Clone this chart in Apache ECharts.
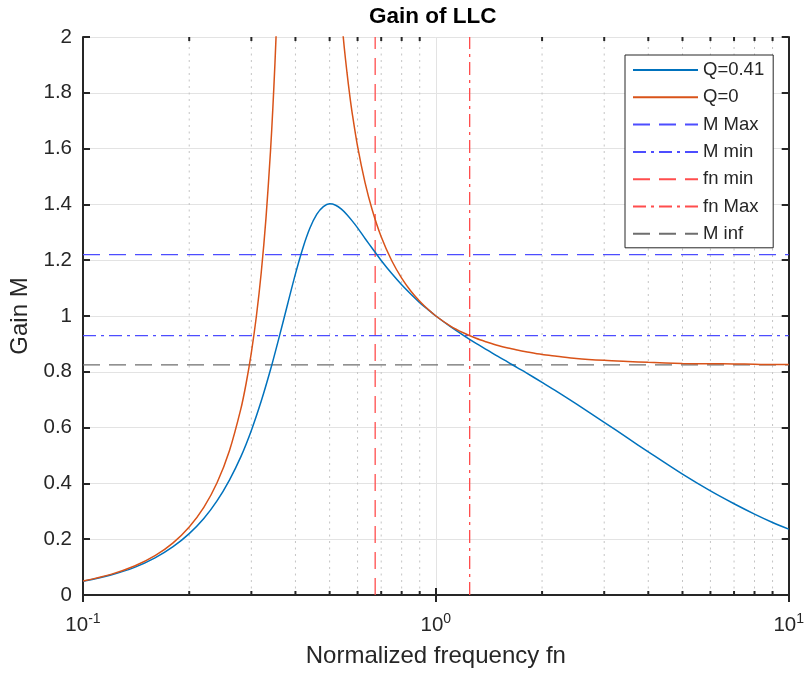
<!DOCTYPE html>
<html>
<head>
<meta charset="utf-8">
<title>Gain of LLC</title>
<script src="https://cdn.jsdelivr.net/npm/echarts@6/dist/echarts.min.js"></script>
<style>
  html, body { margin: 0; padding: 0; background: #fff; }
  #chart { width: 807px; height: 673px; }
</style>
</head>
<body>
<div id="chart"></div>
<script>
// Normalized frequency samples and gain for Q = 0.41 (Ln = 4.7)
const fnQ041 = [0.1, 0.12, 0.14, 0.16, 0.18, 0.2, 0.22, 0.24, 0.26, 0.28, 0.3, 0.32, 0.34, 0.36, 0.38,
  0.4, 0.42, 0.44, 0.46, 0.48, 0.5, 0.52, 0.54, 0.56, 0.58, 0.6, 0.63, 0.66, 0.7, 0.75, 0.8, 0.85,
  0.9, 0.95, 1.0, 1.1, 1.2, 1.3, 1.4, 1.5, 1.6, 1.7, 1.8, 2.0, 2.2, 2.5, 3.0, 3.5, 4.0, 5.0, 6.0,
  7.0, 8.0, 9.0, 10];
const gainQ041 = [0.049, 0.072, 0.099, 0.133, 0.173, 0.220, 0.274, 0.338, 0.412, 0.495, 0.590, 0.695, 0.808, 0.926, 1.042,
  1.151, 1.244, 1.316, 1.365, 1.392, 1.402, 1.397, 1.383, 1.363, 1.340, 1.316, 1.278, 1.243, 1.199, 1.152, 1.112, 1.078,
  1.048, 1.023, 1.000, 0.962, 0.930, 0.902, 0.878, 0.855, 0.835, 0.815, 0.797, 0.762, 0.730, 0.685, 0.619, 0.562, 0.513, 0.433, 0.373,
  0.327, 0.290, 0.260, 0.236];

// Q = 0 (no load): branch below the resonance pole
const fnQ0Low = [0.1, 0.12, 0.14, 0.16, 0.18, 0.2, 0.22, 0.24, 0.26, 0.28, 0.29, 0.3, 0.31, 0.32, 0.33,
  0.34, 0.345, 0.35, 0.355, 0.36];
const gainQ0Low = [0.050, 0.074, 0.104, 0.141, 0.187, 0.244, 0.314, 0.403, 0.517, 0.666, 0.759, 0.869, 0.999, 1.156, 1.350,
  1.593, 1.740, 1.908, 2.103, 2.331];

// Q = 0: branch above the pole
const fnQ0High = [0.54, 0.55, 0.56, 0.57, 0.58, 0.6, 0.63, 0.66, 0.7, 0.75, 0.8, 0.85, 0.9, 0.95, 1.0,
  1.1, 1.2, 1.3, 1.4, 1.5, 1.6, 1.7, 1.8, 2.0, 2.2, 2.5, 3.0, 3.5, 4.0, 5.0, 6.0, 7.0, 8.0, 9.0, 10];
const gainQ0High = [2.070, 1.963, 1.872, 1.792, 1.723, 1.608, 1.478, 1.381, 1.284, 1.198, 1.136, 1.089, 1.053, 1.024, 1.000,
  0.964, 0.939, 0.920, 0.906, 0.894, 0.885, 0.878, 0.872, 0.862, 0.856, 0.848, 0.841, 0.837, 0.834, 0.830, 0.829, 0.828, 0.827, 0.826, 0.826];

// Design limits
const gainLimits = [1.22, 0.93, 0.825];   // M Max, M min, M inf
const fnLimits = [0.673, 1.247];          // fn min, fn Max

// Axis ranges and log-axis minor positions
const xRange = [0.1, 10];
const yRange = [0, 2];
const minorFn = [0.2, 0.3, 0.4, 0.5, 0.6, 0.7, 0.8, 0.9, 2, 3, 4, 5, 6, 7, 8, 9];

const FONT = '"Liberation Sans", Arial, Helvetica, sans-serif';
const AXIS_COLOR = '#262626';
const GRID_COLOR = '#e3e3e3';

const zip = (xs, ys) => xs.map((x, i) => [x, ys[i]]);
const hLine = (y) => [[xRange[0], y], [xRange[1], y]];
const vLine = (x) => [[x, yRange[0]], [x, yRange[1]]];

function curve(name, data, color) {
  return {
    name, type: 'line', data, showSymbol: false, symbol: 'none',
    smooth: 0.3, clip: true, z: 3,
    lineStyle: { color, width: 1.5 }, itemStyle: { color }
  };
}
function guide(name, data, color, dash) {
  return {
    name, type: 'line', data, showSymbol: false, symbol: 'none', clip: true, z: 2,
    lineStyle: { color, width: 1.3, type: dash }, itemStyle: { color }
  };
}

const DASH = [17, 9];
const DASHDOT = [13, 5, 3, 5];

const chart = echarts.init(document.getElementById('chart'), null, { renderer: 'canvas' });

chart.setOption({
  animation: false,
  backgroundColor: '#ffffff',
  title: {
    text: 'Gain of LLC',
    left: 369, top: 5, padding: 0,
    textStyle: { fontFamily: FONT, fontSize: 22.5, fontWeight: 'bold', color: '#000' }
  },
  grid: { left: 83, right: 15, top: 37, bottom: 77, containLabel: false },
  legend: {
    orient: 'vertical',
    left: 625, top: 55,
    padding: [5, 9, 4, 7],
    itemWidth: 65, itemHeight: 20, itemGap: 7.3,
    backgroundColor: '#ffffff',
    borderColor: AXIS_COLOR, borderWidth: 1, borderRadius: 0,
    itemStyle: { opacity: 0 },
    textStyle: { fontFamily: FONT, fontSize: 18.5, color: AXIS_COLOR, lineHeight: 20 },
    data: ['Q=0.41', 'Q=0', 'M Max', 'M min', 'fn min', 'fn Max', 'M inf'],
    selectedMode: false
  },
  xAxis: [{
    type: 'log', logBase: 10, min: xRange[0], max: xRange[1],
    position: 'bottom',
    name: 'Normalized frequency fn', nameLocation: 'middle', nameGap: 49,
    nameTextStyle: { fontFamily: FONT, fontSize: 24, color: AXIS_COLOR },
    axisLine: { show: true, lineStyle: { color: AXIS_COLOR, width: 2 } },
    axisTick: { show: true, inside: true, length: 7, lineStyle: { color: AXIS_COLOR, width: 2 } },
    axisLabel: {
      margin: 17,
      formatter: (v) => '{b|10}{s|' + Math.round(Math.log10(v)) + '}',
      rich: {
        b: { fontFamily: FONT, fontSize: 20.5, color: AXIS_COLOR },
        s: { fontFamily: FONT, fontSize: 14, color: AXIS_COLOR, padding: [0, 0, 12, 0] }
      }
    },
    splitLine: { show: true, lineStyle: { color: GRID_COLOR, width: 1 } }
  }, {
    type: 'log', logBase: 10, min: xRange[0], max: xRange[1],
    position: 'top',
    axisLine: { show: true, lineStyle: { color: AXIS_COLOR, width: 2 } },
    axisTick: { show: true, inside: true, length: 7, lineStyle: { color: AXIS_COLOR, width: 2 } },
    axisLabel: { show: false },
    splitLine: { show: false }
  }],
  yAxis: [{
    type: 'value', min: yRange[0], max: yRange[1], interval: 0.2,
    position: 'left',
    name: 'Gain M', nameLocation: 'middle', nameGap: 49,
    nameTextStyle: { fontFamily: FONT, fontSize: 24, color: AXIS_COLOR },
    axisLine: { show: true, lineStyle: { color: AXIS_COLOR, width: 2 } },
    axisTick: { show: true, inside: true, length: 7, lineStyle: { color: AXIS_COLOR, width: 2 } },
    axisLabel: { margin: 11, fontFamily: FONT, fontSize: 20.5, color: AXIS_COLOR },
    splitLine: { show: true, lineStyle: { color: GRID_COLOR, width: 1 } }
  }, {
    type: 'value', min: yRange[0], max: yRange[1], interval: 0.2,
    position: 'right',
    axisLine: { show: true, lineStyle: { color: AXIS_COLOR, width: 2 } },
    axisTick: { show: true, inside: true, length: 7, lineStyle: { color: AXIS_COLOR, width: 2 } },
    axisLabel: { show: false },
    splitLine: { show: false }
  }],
  series: [
    {
      // minor grid lines and minor ticks of the log axis
      name: 'minor', type: 'custom', xAxisIndex: 0, yAxisIndex: 0, z: 1, silent: true,
      clip: false,
      data: minorFn.map((v) => [v]),
      encode: { x: 0 },
      renderItem: (params, api) => {
        const x = api.value(0);
        const b = api.coord([x, yRange[0]]);
        const t = api.coord([x, yRange[1]]);
        const tick = { stroke: AXIS_COLOR, lineWidth: 2 };
        return {
          type: 'group',
          children: [
            { type: 'line', shape: { x1: b[0], y1: b[1], x2: t[0], y2: t[1] },
              style: { stroke: '#c4c4c4', lineWidth: 1, lineDash: [2, 4.5] } },
            { type: 'line', shape: { x1: b[0], y1: b[1], x2: b[0], y2: b[1] - 4 }, style: tick },
            { type: 'line', shape: { x1: t[0], y1: t[1], x2: t[0], y2: t[1] + 4 }, style: tick }
          ]
        };
      }
    },
    curve('Q=0.41', zip(fnQ041, gainQ041), '#0072BD'),
    curve('Q=0', zip(fnQ0Low, gainQ0Low), '#D95319'),
    curve('Q=0', zip(fnQ0High, gainQ0High), '#D95319'),
    guide('M Max', hLine(gainLimits[0]), '#4d4dff', DASH),
    guide('M min', hLine(gainLimits[1]), '#4d4dff', DASHDOT),
    guide('fn min', vLine(fnLimits[0]), '#ff4d4d', DASH),
    guide('fn Max', vLine(fnLimits[1]), '#ff4d4d', DASHDOT),
    guide('M inf', hLine(gainLimits[2]), '#6e6e6e', DASH)
  ]
});
</script>
</body>
</html>
